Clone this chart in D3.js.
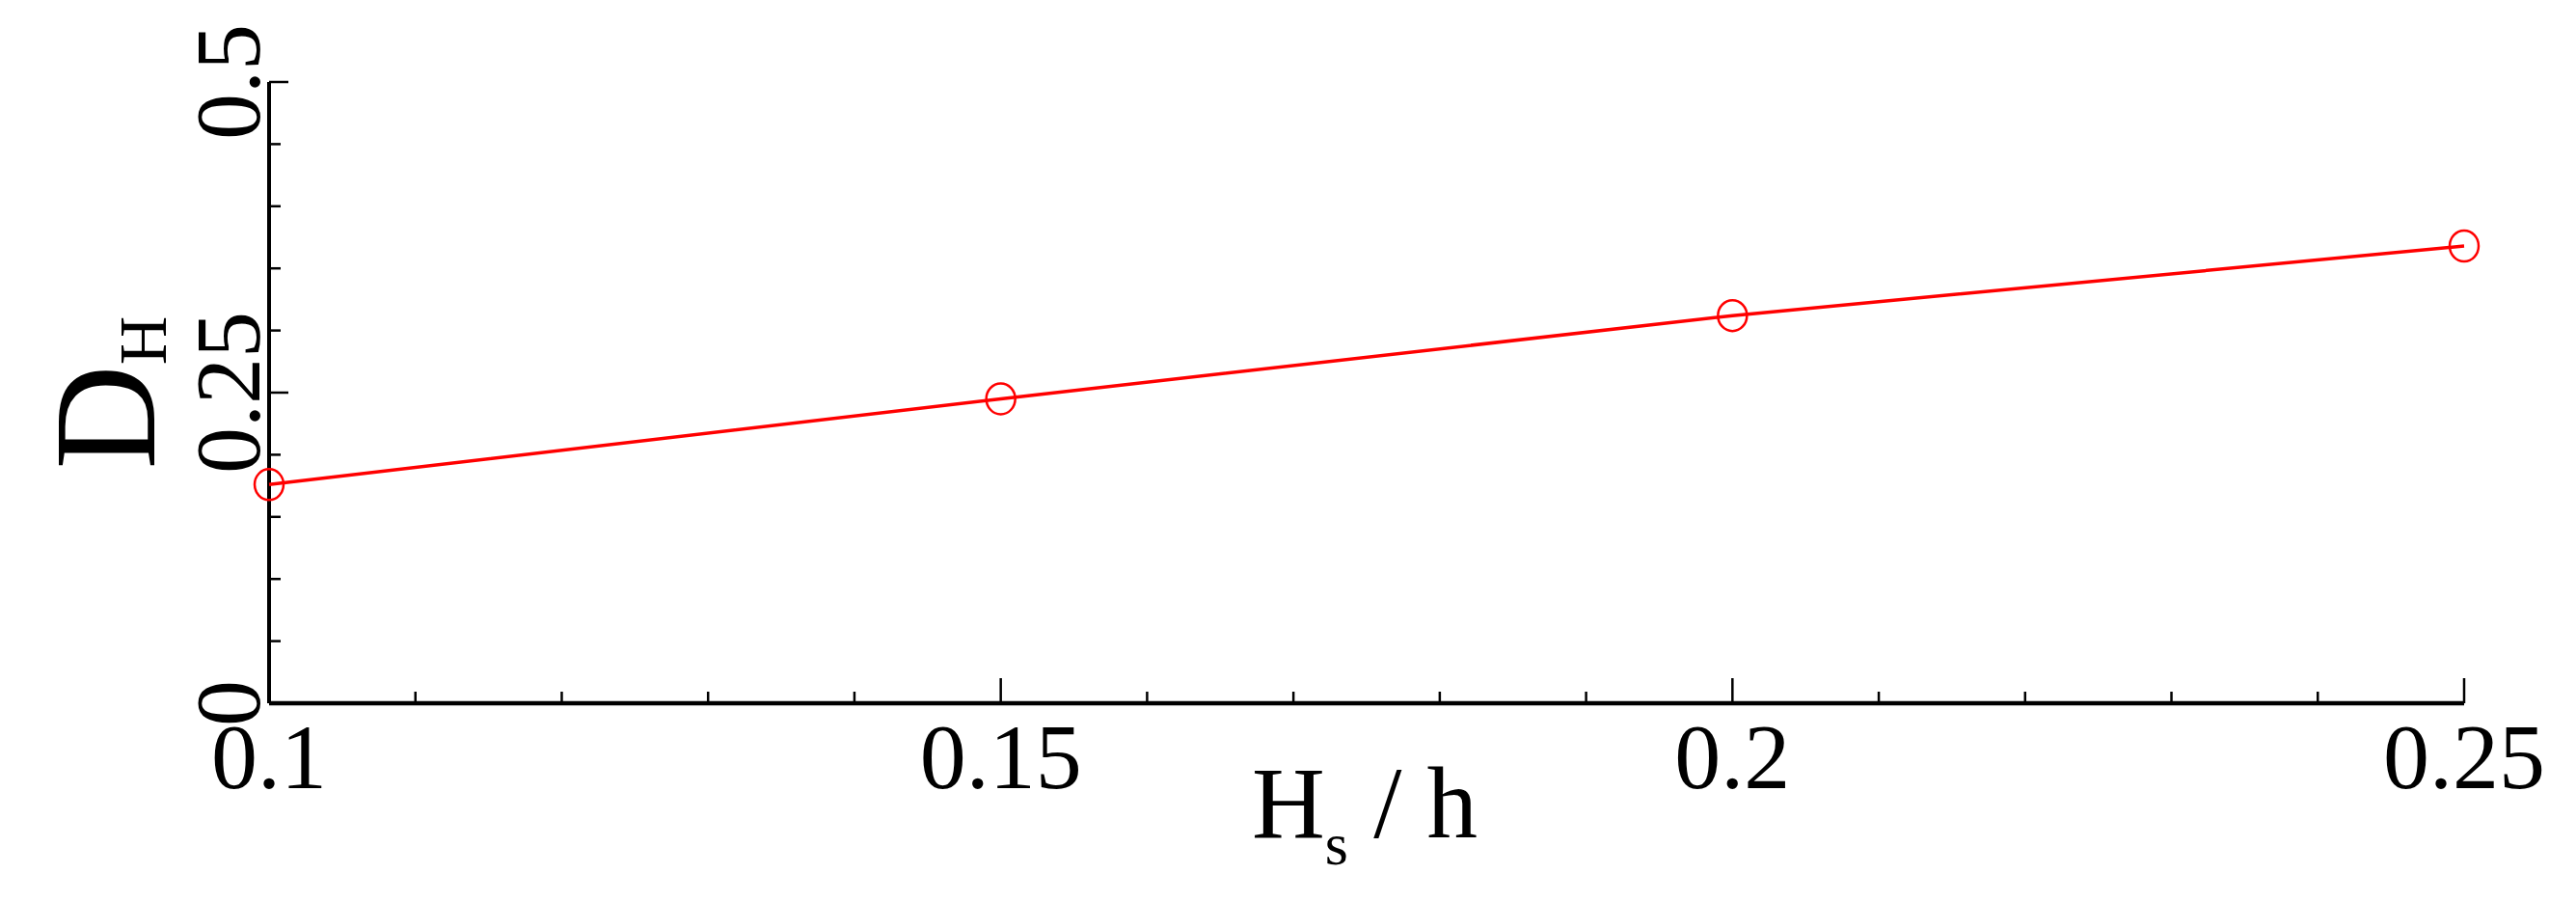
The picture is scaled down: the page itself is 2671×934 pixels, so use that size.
<!DOCTYPE html>
<html lang="en">
<head>
<meta charset="UTF-8">
<title>D_H vs Hs/h</title>
<script src="https://d3js.org/d3.v7.min.js"></script>
<style>
  body { margin: 0; background: #fff; }
  text { font-family: "Liberation Serif", "DejaVu Serif", serif; }
</style>
</head>
<body>
<div id="chart"></div>
<script>
// data
const hsRatio = [0.1, 0.15, 0.2, 0.25];
const dH = [0.176, 0.245, 0.312, 0.368];
const xTickLabels = ["0.1", "0.15", "0.2", "0.25"];
const yTickLabels = ["0", "0.25", "0.5"];

const W = 2671, H = 934;
const margin = {top: 85, right: 116, bottom: 205, left: 279};
const width = W - margin.left - margin.right,
      height = H - margin.top - margin.bottom;

const svg = d3.select("#chart").append("svg")
    .attr("width", W).attr("height", H);
const g = svg.append("g")
    .attr("transform", `translate(${margin.left},${margin.top})`);

const x = d3.scaleLinear().domain([0.1, 0.25]).range([0, width]);
const y = d3.scaleLinear().domain([0, 0.5]).range([height, 0]);

// x ticks (inside, pointing up)
const xMinor = d3.range(0, 16).map(i => 0.1 + i * 0.01);
g.selectAll(".xt").data(xMinor).join("line")
    .attr("x1", d => x(d)).attr("x2", d => x(d))
    .attr("y1", height)
    .attr("y2", (d, i) => height - (i % 5 === 0 ? 26 : 12))
    .attr("stroke", "#000").attr("stroke-width", 2.5);

// y ticks (inside, pointing right)
const yMinor = d3.range(0, 11).map(i => i * 0.05);
g.selectAll(".yt").data(yMinor).join("line")
    .attr("x1", 0)
    .attr("x2", (d, i) => (i % 5 === 0 ? 20 : 12))
    .attr("y1", d => y(d)).attr("y2", d => y(d))
    .attr("stroke", "#000").attr("stroke-width", 2.5);

// axis lines
g.append("line").attr("x1", 0).attr("x2", width).attr("y1", height).attr("y2", height)
    .attr("stroke", "#000").attr("stroke-width", 4.5);
g.append("line").attr("x1", 0).attr("x2", 0).attr("y1", 0).attr("y2", height)
    .attr("stroke", "#000").attr("stroke-width", 4);

// x tick labels
g.selectAll(".xl").data(hsRatio).join("text")
    .attr("x", d => x(d)).attr("y", height + 88)
    .attr("text-anchor", "middle")
    .attr("font-size", 96)
    .text((d, i) => xTickLabels[i]);

// y tick labels (rotated)
g.selectAll(".yl").data([0, 0.25, 0.5]).join("text")
    .attr("transform", d => `translate(-10,${y(d)}) rotate(-90)`)
    .attr("text-anchor", "middle")
    .attr("font-size", 96)
    .text((d, i) => yTickLabels[i]);

// line + markers
const line = d3.line().x((d, i) => x(hsRatio[i])).y(d => y(d));
g.append("path").datum(dH)
    .attr("d", line)
    .attr("fill", "none").attr("stroke", "#ff0000").attr("stroke-width", 3.5);
g.selectAll(".pt").data(dH).join("ellipse")
    .attr("cx", (d, i) => x(hsRatio[i])).attr("cy", d => y(d))
    .attr("rx", 15).attr("ry", 16)
    .attr("fill", "none").attr("stroke", "#ff0000").attr("stroke-width", 2.5);

// axis titles
const xt = svg.append("text")
    .attr("x", 1415).attr("y", 868)
    .attr("text-anchor", "middle")
    .attr("font-size", 105);
xt.append("tspan").text("H");
xt.append("tspan").attr("font-size", 62).attr("dy", 28).text("s");
xt.append("tspan").attr("dy", -28).text(" / h");

const yt = svg.append("text")
    .attr("transform", `translate(160,${margin.top + y(0.25)}) rotate(-90)`)
    .attr("text-anchor", "middle")
    .attr("font-size", 150);
yt.append("tspan").text("D");
yt.append("tspan").attr("font-size", 70).attr("dy", 12).text("H");
</script>
</body>
</html>
